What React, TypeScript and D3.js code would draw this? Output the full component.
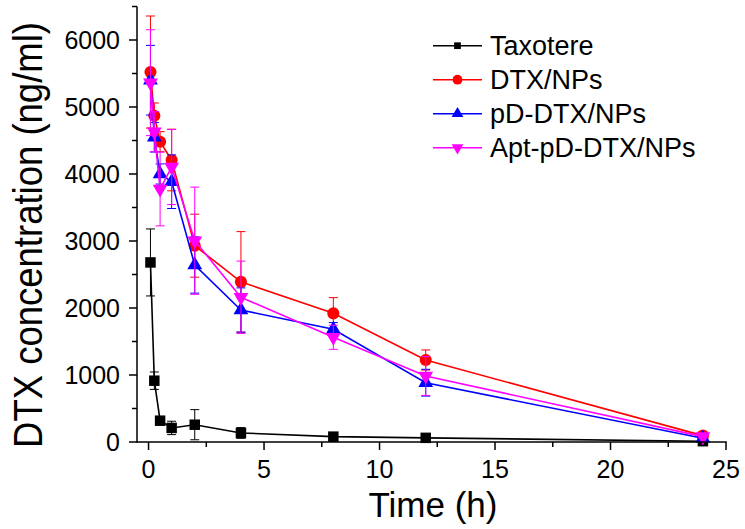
import React from "react";
import * as d3 from "d3";

const times = [0.083, 0.25, 0.5, 1, 2, 4, 8, 12, 24];
const seriesNames = ["Taxotere", "DTX/NPs", "pD-DTX/NPs", "Apt-pD-DTX/NPs"];
const taxotere = [2680, 915, 318, 210, 258, 135, 80, 62, 12];
const taxotereErr = [500, 130, 60, 100, 225, 80, 30, 20, 5];
const dtxNps = [5522, 4870, 4482, 4209, 2930, 2390, 1920, 1224, 95];
const dtxNpsErr = [836, 190, 150, 460, 470, 750, 235, 150, 20];
const pdNps = [5400, 4548, 4000, 3885, 2642, 1970, 1682, 885, 55];
const pdNpsErr = [520, 220, 150, 400, 420, 330, 100, 200, 20];
const aptNps = [5363, 4631, 3776, 4104, 3004, 2160, 1563, 985, 80];
const aptNpsErr = [790, 300, 550, 560, 800, 540, 180, 290, 20];
const xTicks = [0, 5, 10, 15, 20, 25];
const yTicks = [0, 1000, 2000, 3000, 4000, 5000, 6000];

const colors = ["#000000", "#ff0000", "#0000ff", "#ff00ff"];
const shapes = ["square", "circle", "up", "down"];

const W = 745;
const H = 529;
const FONT = "'Liberation Sans', Arial, sans-serif";

function markerPath(shape: string, size: number) {
  if (shape === "square") return d3.symbol(d3.symbolSquare, size)() as string;
  if (shape === "circle") return d3.symbol(d3.symbolCircle, size)() as string;
  return d3.symbol(d3.symbolTriangle, size)() as string;
}

export default function App() {
  const x = d3.scaleLinear().domain([-0.5, 25]).range([137, 726]);
  const y = d3.scaleLinear().domain([0, 6500]).range([442, 6.5]);
  const data = [
    { v: taxotere, e: taxotereErr },
    { v: dtxNps, e: dtxNpsErr },
    { v: pdNps, e: pdNpsErr },
    { v: aptNps, e: aptNpsErr },
  ];
  const line = d3
    .line<[number, number]>()
    .x((d) => x(d[0]))
    .y((d) => y(d[1]));
  const xMinor = d3.range(2.5, 25, 5);
  const yMinor = d3.range(500, 6501, 1000);
  const sizes = [110, 115, 95, 95];
  const legSizes = [45, 75, 60, 60];

  return (
    <svg
      width={W}
      height={H}
      style={{ position: "absolute", left: 0, top: 0, background: "#fff" }}
      fontFamily={FONT}
    >
      <rect x={0} y={0} width={W} height={H} fill="#fff" />
      {data.map((s, si) => {
        const pts = times.map((t, i) => [t, s.v[i]] as [number, number]);
        return (
          <g key={si}>
            {times.map((t, i) => {
              const cx = x(t);
              const y1 = y(s.v[i] + s.e[i]);
              const y2 = y(Math.max(0, s.v[i] - s.e[i]));
              return (
                <g key={i} stroke={colors[si]} strokeWidth={1}>
                  <line x1={cx} x2={cx} y1={y1} y2={y2} />
                  <line x1={cx - 4.5} x2={cx + 4.5} y1={y1} y2={y1} />
                  <line x1={cx - 4.5} x2={cx + 4.5} y1={y2} y2={y2} />
                </g>
              );
            })}
            <path d={line(pts) as string} fill="none" stroke={colors[si]} strokeWidth={1.6} />
            {times.map((t, i) => (
              <path
                key={i}
                d={markerPath(shapes[si], sizes[si])}
                transform={`translate(${x(t)},${y(s.v[i])})${shapes[si] === "down" ? " rotate(180)" : ""}`}
                fill={colors[si]}
              />
            ))}
          </g>
        );
      })}
      <g stroke="#000" strokeWidth={1.5}>
        <line x1={137} x2={726.75} y1={442} y2={442} />
        <line x1={137} x2={137} y1={442.75} y2={6.5} />
        {xTicks.map((t) => (
          <line key={t} x1={x(t)} x2={x(t)} y1={442} y2={450} />
        ))}
        {xMinor.map((t) => (
          <line key={t} x1={x(t)} x2={x(t)} y1={442} y2={447} />
        ))}
        {yTicks.map((t) => (
          <line key={t} x1={137} x2={129} y1={y(t)} y2={y(t)} />
        ))}
        {yMinor.map((t) => (
          <line key={t} x1={137} x2={132} y1={y(t)} y2={y(t)} />
        ))}
      </g>
      {xTicks.map((t) => (
        <text key={t} x={x(t)} y={478} fontSize={25} textAnchor="middle" fill="#000">
          {t}
        </text>
      ))}
      {yTicks.map((t) => (
        <text key={t} x={120} y={y(t) + 8.8} fontSize={25} textAnchor="end" fill="#000">
          {t}
        </text>
      ))}
      <text x={433} y={517} fontSize={35} textAnchor="middle" fill="#000">
        Time (h)
      </text>
      <text
        transform={`translate(42,235) rotate(-90) scale(1,1.1)`}
        fontSize={36.5}
        textAnchor="middle"
        fill="#000"
      >
        DTX concentration (ng/ml)
      </text>
      {seriesNames.map((n, i) => {
        const ly = 45.7 + i * 34;
        return (
          <g key={n}>
            <line x1={433} x2={482} y1={ly} y2={ly} stroke={colors[i]} strokeWidth={1.6} />
            <path
              d={markerPath(shapes[i], legSizes[i])}
              transform={`translate(457.5,${ly})${shapes[i] === "down" ? " rotate(180)" : ""}`}
              fill={colors[i]}
            />
            <text x={490} y={ly + 8.8} fontSize={27} fill="#000">
              {n}
            </text>
          </g>
        );
      })}
    </svg>
  );
}
